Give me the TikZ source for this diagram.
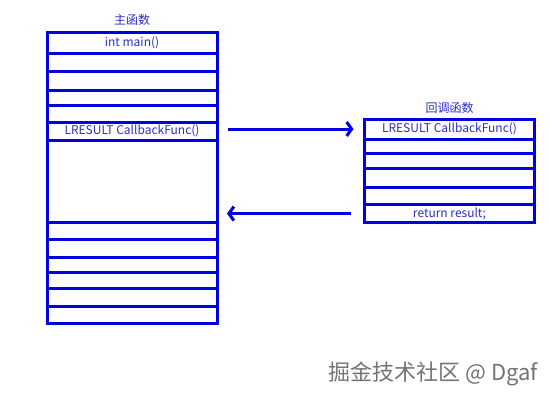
\documentclass[tikz,border=0pt]{standalone}
\usepackage{fontspec}
\setmainfont{Noto Sans CJK SC}
\usetikzlibrary{positioning,arrows.meta}
\definecolor{stackblue}{RGB}{0,0,225}
\definecolor{labelblue}{RGB}{45,45,200}

\begin{document}
\begin{tikzpicture}[x=1pt,y=-1pt,
  cell/.style={draw=stackblue,line width=3pt,rectangle,minimum width=170pt,
    inner sep=0pt,outer sep=0pt,text=labelblue,font=\fontsize{12}{13}\selectfont},
  title/.style={text=labelblue,inner sep=0pt,font=\fontsize{12}{13}\selectfont},
  call/.style={draw=stackblue,line width=3pt,-{Straight Barb[length=5pt,width=14pt]}}]
\useasboundingbox (0,0) rectangle (550,400);
% main stack frame
\node[cell, minimum height=21pt] (M1) at (132,42.5) {int main()};
\foreach \h/\t [count=\i from 2] in {18.5/{},18.5/{},15.5/{},16.5/{},
    18/{LRESULT CallbackFunc()},82/{},17/{},18/{},15/{},16.5/{},17.5/{},17/{}} {
  \pgfmathtruncatemacro\j{\i-1}
  \node[cell, minimum height=\h pt, below=0pt of M\j] (M\i) {\t};
}
% callback stack frame
\node[cell, minimum height=20pt] (R1) at (449.5,129) {LRESULT CallbackFunc()};
\foreach \h/\t [count=\i from 2] in {14/{},15.7/{},18.7/{},17.3/{},17.7/{return result;}} {
  \pgfmathtruncatemacro\j{\i-1}
  \node[cell, minimum height=\h pt, below=0pt of R\j] (R\i) {\t};
}
\node[title, above=6pt of M1] (main) {主函数};
\node[title, above=5pt of R1] (callback) {回调函数};
\draw[call, shorten <=11pt, shorten >=11pt] (R1.west -| M7.east) -- (R1.west);
\draw[call, shorten <=14pt, shorten >=10pt] (R6.west) -- (R6.west -| M7.east);
\node[anchor=east, text=black!55, inner sep=0pt,
  font=\fontsize{22}{24}\selectfont] (mark) at (538,374) {掘金技术社区 @ Dgaf};
\end{tikzpicture}
\end{document}
